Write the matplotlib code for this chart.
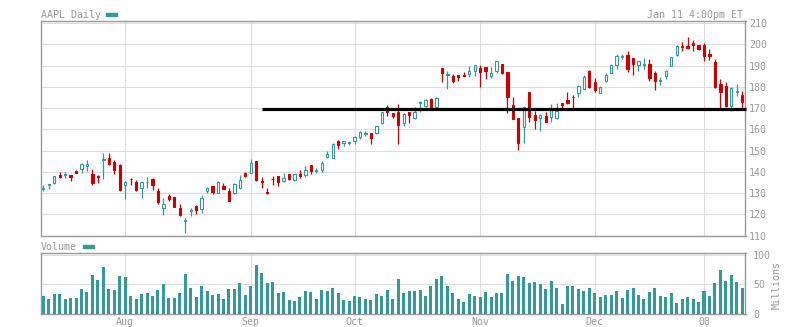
import matplotlib
matplotlib.use("Agg")
import matplotlib.pyplot as plt
from matplotlib.patches import Rectangle
import numpy as np

plt.rcParams['font.family'] = 'DejaVu Sans Mono'

teal = '#339999'
red = '#cc0000'
grey = '#999999'

# daily OHLC, Jul 11 2007 .. Jan 11 2008 (trading days)
opens = [131.8, 133.7, 134.9, 138.7, 138.4, 138.5, 140.4, 141.5, 142.9, 139.1,
         137.9, 145.7, 146.4, 144.5, 143.2, 133.6, 136.8, 135.1, 132.6, 135.0,
         136.6, 130.8, 122.8, 128.6, 128.2, 123.0, 116.9, 121.7, 123.9, 122.4,
         131.1, 133.3, 130.2, 133.3, 131.0, 129.9, 132.6, 139.4, 139.6, 145.1,
         135.6, 130.4, 136.8, 138.0, 135.8, 139.0, 136.2, 139.0, 138.3, 143.0,
         140.3, 140.9, 146.8, 146.7, 154.5, 153.7, 153.6, 154.5, 156.5, 158.0,
         158.3, 158.4, 163.0, 170.3, 167.8, 168.3, 162.8, 168.3, 165.3, 172.5,
         171.1, 174.1, 170.3, 188.7, 185.7, 185.3, 185.6, 185.7, 186.2, 187.6,
         188.7, 189.3, 185.2, 187.3, 190.7, 187.0, 171.3, 165.3, 160.9, 177.5,
         166.7, 165.2, 166.3, 165.6, 165.3, 172.4, 173.8, 175.4, 176.9, 179.1,
         187.4, 182.3, 177.2, 182.9, 186.4, 190.4, 194.0, 195.0, 193.6, 190.1,
         190.5, 190.7, 186.4, 182.8, 185.3, 190.0, 195.0, 199.0, 199.2, 200.6,
         199.7, 199.7, 195.4, 191.5, 181.3, 180.4, 171.0, 177.5, 176.2]
highs = [133.6, 134.4, 138.0, 139.8, 139.9, 138.6, 140.9, 144.3, 145.6, 141.3,
         138.7, 148.7, 148.7, 145.6, 143.5, 135.7, 137.1, 136.0, 135.3, 137.6,
         137.3, 132.6, 127.5, 129.6, 128.2, 124.7, 118.4, 123.0, 124.6, 129.1,
         133.0, 133.3, 135.7, 134.7, 132.2, 134.6, 138.5, 139.9, 146.0, 145.1,
         137.4, 132.2, 138.0, 138.0, 139.4, 139.0, 139.0, 140.9, 142.7, 143.0,
         141.8, 145.1, 149.8, 153.4, 155.0, 154.5, 154.7, 157.0, 159.2, 159.2,
         158.3, 161.4, 168.0, 171.5, 167.8, 171.9, 167.8, 168.3, 170.3, 173.2,
         174.3, 174.6, 175.2, 188.7, 187.3, 186.0, 185.6, 186.8, 190.0, 190.1,
         190.3, 189.3, 189.2, 192.0, 190.7, 187.0, 175.2, 165.3, 171.0, 177.5,
         168.6, 167.2, 168.0, 171.9, 172.5, 172.4, 177.6, 176.2, 180.9, 185.6,
         187.9, 184.0, 180.4, 186.3, 190.6, 195.4, 195.3, 197.0, 193.6, 192.0,
         193.6, 193.1, 187.3, 184.6, 187.8, 194.0, 199.7, 201.1, 203.3, 202.0,
         199.7, 200.6, 197.8, 193.1, 183.5, 182.4, 179.9, 181.3, 177.9]
lows = [131.0, 132.1, 134.4, 137.2, 137.3, 135.8, 139.5, 139.6, 140.5, 133.8,
        134.9, 136.8, 143.2, 139.1, 131.1, 127.2, 133.8, 131.1, 127.8, 132.6,
        131.5, 124.9, 119.7, 126.5, 123.6, 119.4, 111.4, 119.4, 120.2, 120.8,
        130.2, 129.6, 129.9, 131.8, 126.5, 129.4, 132.1, 137.4, 139.3, 135.7,
        132.6, 129.6, 133.8, 133.3, 135.4, 136.2, 135.8, 137.1, 137.4, 139.0,
        139.3, 139.9, 146.7, 146.7, 150.9, 152.2, 152.8, 152.9, 155.6, 156.9,
        153.1, 157.6, 162.7, 166.4, 165.3, 153.1, 161.7, 163.1, 165.0, 168.0,
        170.6, 169.6, 169.9, 182.4, 179.1, 181.6, 182.7, 184.9, 184.5, 184.9,
        180.1, 183.5, 184.3, 186.7, 186.0, 167.8, 165.0, 150.3, 153.7, 163.6,
        160.3, 159.4, 163.3, 163.6, 164.7, 169.7, 172.1, 170.0, 175.4, 178.8,
        179.4, 177.7, 176.9, 182.4, 186.4, 188.4, 192.9, 187.0, 185.6, 187.6,
        188.5, 182.7, 178.7, 180.9, 183.7, 190.0, 194.7, 196.6, 197.8, 197.0,
        197.3, 192.2, 192.6, 179.3, 169.9, 170.5, 168.6, 175.7, 169.9]
closes = [132.3, 134.3, 137.9, 137.7, 139.1, 137.7, 139.6, 143.7, 143.7, 134.9,
          137.5, 146.1, 143.7, 141.0, 131.5, 135.1, 136.4, 131.5, 135.1, 135.4,
          133.8, 125.9, 124.7, 127.2, 123.6, 119.8, 117.4, 122.1, 122.1, 127.5,
          132.2, 130.5, 135.2, 132.1, 126.5, 134.1, 136.0, 138.0, 144.3, 136.0,
          135.2, 130.0, 136.4, 135.4, 137.1, 136.6, 139.0, 138.0, 140.9, 140.4,
          140.6, 144.3, 148.2, 153.1, 152.8, 154.3, 153.8, 156.2, 158.6, 158.2,
          156.1, 161.4, 168.0, 168.1, 166.4, 162.2, 167.2, 166.7, 168.3, 172.9,
          173.8, 170.2, 174.6, 186.4, 186.1, 182.9, 184.8, 184.9, 187.5, 190.1,
          187.1, 187.6, 186.5, 192.0, 186.3, 175.4, 165.0, 153.7, 170.7, 166.0,
          164.2, 166.6, 163.6, 169.2, 168.8, 171.6, 172.4, 175.0, 180.4, 184.6,
          179.8, 178.5, 179.7, 185.6, 190.1, 194.3, 194.4, 188.5, 190.9, 192.0,
          190.8, 184.3, 182.9, 183.1, 187.3, 194.0, 199.2, 198.7, 198.3, 199.7,
          197.8, 194.7, 194.5, 180.1, 177.7, 171.0, 179.6, 177.9, 172.7]
# millions of shares
volumes = [30.3, 25.3, 33.7, 33.7, 25.3, 27.0, 27.0, 42.1, 37.1, 65.7,
           57.3, 79.2, 42.1, 40.4, 64.0, 62.4, 30.3, 25.3, 33.7, 35.4,
           30.3, 40.4, 50.6, 27.0, 27.0, 35.4, 67.4, 43.8, 28.7, 47.2,
           38.8, 32.0, 33.7, 25.3, 42.1, 42.1, 52.2, 32.0, 47.2, 82.6,
           69.1, 52.2, 53.9, 35.4, 37.1, 23.6, 21.9, 28.7, 38.8, 37.1,
           25.3, 40.4, 38.8, 43.8, 35.4, 23.6, 21.9, 30.3, 28.7, 25.3,
           23.6, 33.7, 30.3, 40.4, 25.3, 59.0, 35.4, 38.8, 38.8, 40.4,
           30.3, 47.2, 59.0, 64.0, 47.2, 35.4, 25.3, 20.2, 33.7, 30.3,
           28.7, 37.1, 28.7, 35.4, 35.4, 67.4, 55.6, 64.0, 62.4, 52.2,
           53.9, 50.6, 42.1, 55.6, 43.8, 16.9, 47.2, 47.2, 42.1, 38.8,
           43.8, 35.4, 28.7, 32.0, 32.0, 38.8, 27.0, 40.4, 43.8, 32.0,
           25.3, 37.1, 43.8, 30.3, 28.7, 35.4, 18.5, 25.3, 28.7, 25.3,
           20.2, 38.8, 30.3, 52.2, 74.2, 55.6, 65.7, 53.9, 43.8]

month_labels = ['Aug', 'Sep', 'Oct', 'Nov', 'Dec', '08']
month_idx = [15, 38, 57, 80, 101, 121]

support_level = 169.5
support_start = 40

o = np.array(opens)
h = np.array(highs)
l = np.array(lows)
c = np.array(closes)
x = np.arange(len(o))
up = c >= o

fig = plt.figure(figsize=(8.03, 3.27), dpi=100)
W, H = 803, 327
ax = fig.add_axes([41 / W, 1 - 236 / H, 704.5 / W, (236 - 21.3) / H])
axv = fig.add_axes([41 / W, 1 - 314 / H, 704.5 / W, (314 - 253.3) / H])

# candles
ax.vlines(x[up], l[up], h[up], color=teal, lw=0.9, zorder=2)
ax.vlines(x[~up], l[~up], h[~up], color=red, lw=0.9, zorder=2)
body = np.maximum(np.abs(c - o), 0.35)
mid = (o + c) / 2
ax.bar(x[up], body[up], bottom=mid[up] - body[up] / 2, width=0.42,
       facecolor='white', edgecolor=teal, lw=0.8, zorder=3)
ax.bar(x[~up], body[~up], bottom=mid[~up] - body[~up] / 2, width=0.42,
       facecolor=red, edgecolor=red, lw=0.8, zorder=3)

ax.hlines(support_level, support_start, len(o) - 0.3, color='black', lw=2.3,
          zorder=4, clip_on=False)

ax.set_xlim(-0.42, len(o) - 0.4)
ax.set_ylim(109.8, 210.8)
ax.set_yticks(range(110, 211, 10))
ax.yaxis.tick_right()
ax.set_xticks(month_idx)
ax.set_xticklabels([])

# volume
axv.bar(x, volumes, width=0.55, color=teal, zorder=3)
axv.set_xlim(-0.42, len(o) - 0.4)
axv.set_ylim(0, 102.4)
axv.set_yticks([0, 50, 100])
axv.yaxis.tick_right()
axv.set_xticks(month_idx)
axv.set_xticklabels(month_labels)

for a, pad in ((ax, 2.5), (axv, 5.5)):
    a.grid(color='#dddddd', lw=0.8)
    a.set_axisbelow(True)
    a.tick_params(length=0, labelcolor=grey, labelsize=7.2)
    a.tick_params(axis='y', pad=pad)
    a.tick_params(axis='x', pad=2.5)
    for s in a.spines.values():
        s.set_color(grey)
        s.set_linewidth(1.0)

fig.text(41 / W, 1 - 15 / H, 'AAPL Daily', color=grey, fontsize=7.2, va='center')
fig.add_artist(Rectangle((106 / W, 1 - 15.7 / H), 11 / W, 2.7 / H,
                         transform=fig.transFigure, color=teal))
fig.text(743 / W, 1 - 15 / H, 'Jan 11 4:00pm ET', color=grey, fontsize=7.2,
         va='center', ha='right')
fig.text(41 / W, 1 - 247 / H, 'Volume', color=grey, fontsize=7.2, va='center')
fig.add_artist(Rectangle((83.5 / W, 1 - 248 / H), 10.5 / W, 2.7 / H,
                         transform=fig.transFigure, color=teal))
fig.text(777 / W, 1 - 285 / H, 'Millions', color=grey, fontsize=7.2,
         va='center', ha='center', rotation=90)

fig.savefig('out.png', dpi=100)
